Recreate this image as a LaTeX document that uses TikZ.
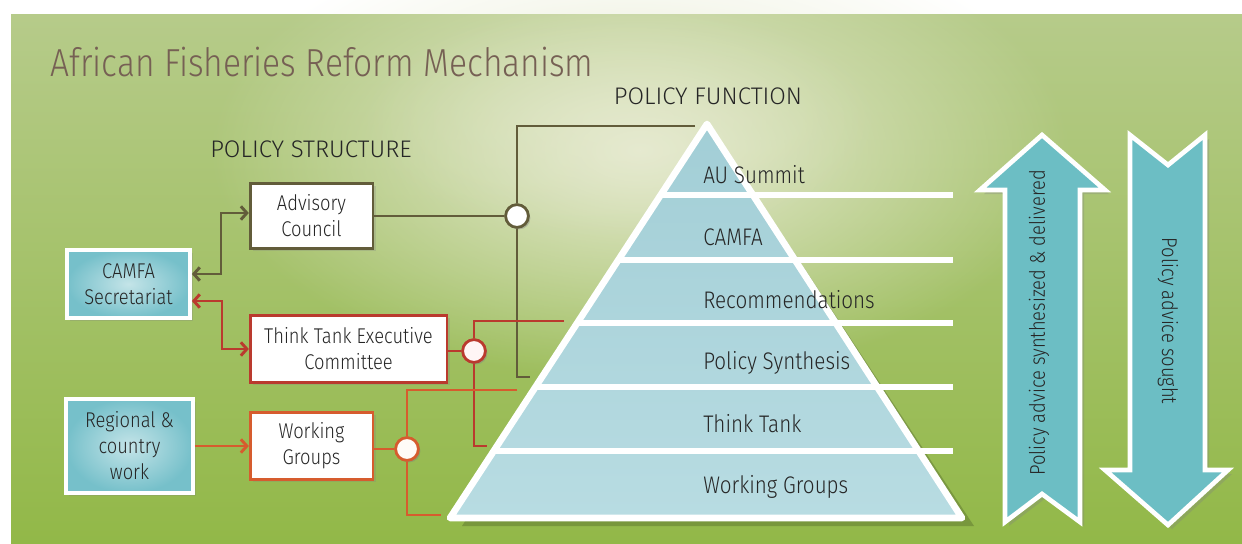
\documentclass[tikz,border=0pt]{standalone}
\usepackage{fontspec}
\setmainfont{Fira Sans}[UprightFont=* Light, FakeStretch=0.86]
\newfontfamily\hdrfont{Fira Sans}[UprightFont=* Light]
\usetikzlibrary{arrows.meta,shadows,fadings,calc}
\tikzfading[name=spotfade, inner color=transparent!0, outer color=transparent!100]
\definecolor{bgtop}{RGB}{182,203,138}
\definecolor{bgbot}{RGB}{146,184,72}
\definecolor{bglight}{RGB}{230,234,208}
\definecolor{titlec}{RGB}{118,96,84}
\definecolor{txt}{RGB}{38,38,38}
\definecolor{olivec}{RGB}{98,92,58}
\definecolor{redc}{RGB}{186,58,46}
\definecolor{orangec}{RGB}{214,92,46}
\definecolor{tealin}{RGB}{196,228,232}
\definecolor{tealout}{RGB}{118,192,202}
\definecolor{pyrteal}{RGB}{184,220,226}
\definecolor{pyrteal2}{RGB}{162,206,214}
\definecolor{arrteal}{RGB}{108,190,196}
\begin{document}
\begin{tikzpicture}[x=0.75pt,y=-0.75pt,
  lbl/.style={text=txt,font=\fontsize{16}{19}\selectfont,align=center,inner sep=0pt},
  plbl/.style={text=txt,font=\fontsize{18}{21}\selectfont,anchor=west,inner sep=0pt},
  hdr/.style={text=txt,font=\hdrfont\fontsize{18}{21}\selectfont,inner sep=0pt},
  wbox/.style={rectangle,fill=white,line width=2pt,align=center,text=txt,
     font=\fontsize{16}{19.5}\selectfont,inner sep=0pt,
     drop shadow={opacity=0.25,shadow xshift=2pt,shadow yshift=-2pt}},
  tbox/.style={rectangle,inner color=tealin,outer color=tealout,draw=white,line width=3pt,
     align=center,text=txt,font=\fontsize{16}{19.5}\selectfont,inner sep=0pt,
     drop shadow={opacity=0.25,shadow xshift=2pt,shadow yshift=-2pt}},
  junc/.style={circle,line width=2pt,minimum size=17pt,inner sep=0pt,
     drop shadow={opacity=0.25,shadow xshift=1.5pt,shadow yshift=-1.5pt}},
  oline/.style={draw=olivec,line width=2.2pt},
  rline/.style={draw=redc,line width=2.2pt},
  gline/.style={draw=orangec,line width=2.2pt},
  barbs/.style={{Straight Barb[length=4.5pt,width=10pt]}-{Straight Barb[length=4.5pt,width=10pt]}},
  barb/.style={-{Straight Barb[length=4.5pt,width=10pt]}},
  wline/.style={draw=white,line width=5pt},
  bigarrow/.style={fill=arrteal,draw=white,line width=3.5pt,line join=miter,
     drop shadow={opacity=0.3,shadow xshift=3pt,shadow yshift=-3pt}}
]
\useasboundingbox (0,0) rectangle (1242,543);
% background
\shade[top color=bgtop,bottom color=bgbot] (11,14) rectangle (1242,543);
\fill[bglight,path fading=spotfade] (640,150) ellipse [x radius=430,y radius=230];
\fill[bglight,opacity=0.5,path fading=spotfade] (620,120) ellipse [x radius=260,y radius=120];

% title and headers
\node[anchor=west,text=titlec,font=\fontsize{29.3}{34}\selectfont,inner sep=0pt] (title) at (50,62) {African Fisheries Reform Mechanism};
\node[hdr] (pf) at (708,96) {POLICY FUNCTION};
\node[hdr] (ps) at (311,149) {POLICY STRUCTURE};

% pyramid
\coordinate (apex) at (707,124);
\coordinate (bl) at (450,518);
\coordinate (br) at (962,518);
\fill[black,opacity=0.18] (716,134) -- (974,526) -- (462,526) -- cycle;
\shade[top color=pyrteal2,bottom color=pyrteal,draw=white,line width=5pt,line join=round] (apex) -- (br) -- (bl) -- cycle;
\draw[wline] (660.7,195) -- (953,195);
\draw[wline] (618.3,260) -- (953,260);
\draw[wline] (577.2,323) -- (953,323);
\draw[wline] (535.4,387) -- (953,387);
\draw[wline] (493.7,451) -- (953,451);
\node[plbl] (l1) at (703,175) {AU Summit};
\node[plbl] (l2) at (703,237) {CAMFA};
\node[plbl] (l3) at (703,300) {Recommendations};
\node[plbl] (l4) at (703,363) {Policy Synthesis};
\node[plbl] (l5) at (703,424) {Think Tank};
\node[plbl] (l6) at (703,487) {Working Groups};

% boxes
\node[wbox,draw=olivec,minimum width=92pt,minimum height=48.5pt] (adv) at (311.5,216) {Advisory\\Council};
\node[tbox,minimum width=92pt,minimum height=51pt] (camfa) at (128.5,284) {CAMFA\\Secretariat};
\node[wbox,draw=redc,minimum width=147.5pt,minimum height=50pt] (tt) at (348.5,349) {Think Tank Executive\\Committee};
\node[wbox,draw=orangec,minimum width=92pt,minimum height=50pt] (wg) at (311.5,446) {Working\\Groups};
\node[tbox,minimum width=95pt,minimum height=70.5pt] (reg) at (129.5,446) {Regional \&\\country\\work};

% junctions
\node[junc,draw=olivec,fill=white] (c1) at (517,216) {};
\node[junc,draw=redc,fill=red!4] (c2) at (474,351) {};
\node[junc,draw=orangec,fill=orange!3] (c3) at (407,449) {};

% helper coordinates
\coordinate (ca1) at ([yshift=7.5pt]camfa.east);
\coordinate (ca2) at ([yshift=-12.75pt]camfa.east);
\coordinate (j1) at (221,0);
\coordinate (j2) at (222,0);
\coordinate (adin) at ([yshift=2.25pt]adv.west);
\coordinate (o1) at (695,126);
\coordinate (o2) at (530,377);
\coordinate (r1) at (564,321);
\coordinate (r2) at (487,446);
\coordinate (g1) at (517,390);
\coordinate (g2) at (441,515);

% olive connectors
\draw[oline] (o1) -| (c1.north);
\draw[oline] (c1.south) |- (o2);
\draw[oline] (adv.east |- c1) -- (c1.west);
\draw[oline,barbs] (ca1) -- (ca1 -| j1) |- (adin);
% red connectors
\draw[rline] (r1) -| (c2.north);
\draw[rline] (c2.south) |- (r2);
\draw[rline] (tt.east |- c2) -- (c2.west);
\draw[rline,barbs] (ca2) -- (ca2 -| j2) |- (tt.west);
% orange connectors
\draw[gline] (g1) -| (c3.north);
\draw[gline] (c3.south) |- (g2);
\draw[gline] (wg.east |- c3) -- (c3.west);
\draw[gline,barb] (reg.east) -- (wg.west);
\node[junc,draw=olivec,fill=white] at (c1) {};
\node[junc,draw=redc,fill=red!4] at (c2) {};
\node[junc,draw=orangec,fill=orange!3] at (c3) {};

% big arrows
\path[bigarrow] (1042,135) -- (1105,190) -- (1080,190) -- (1080,522) -- (1042,494) -- (1005,522) -- (1005,190) -- (980,190) -- cycle;
\path[bigarrow] (1130,135) -- (1168,165) -- (1205,135) -- (1205,470) -- (1228,470) -- (1168,525) -- (1105,470) -- (1130,470) -- cycle;
\node[lbl,rotate=90] (up) at (1039,323) {Policy advice synthesized \& delivered};
\node[lbl,rotate=-90] (down) at (1168,321) {Policy advice sought};
\end{tikzpicture}
\end{document}
